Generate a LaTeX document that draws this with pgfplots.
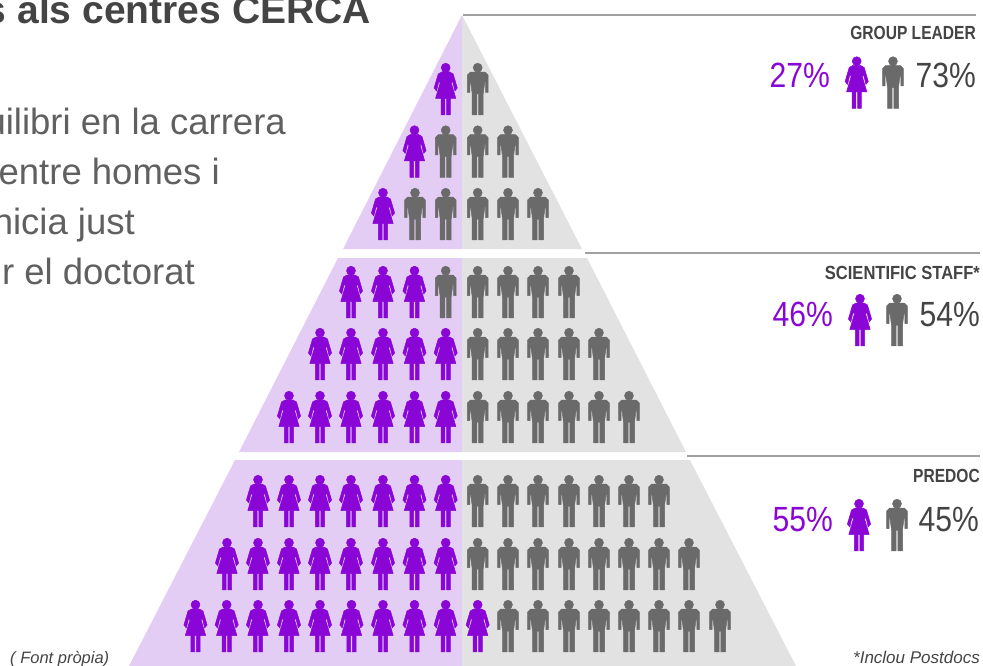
\documentclass[border=0pt]{standalone}
\usepackage{graphicx}
\usepackage{fontspec}
\setmainfont{Liberation Sans}
\usepackage{pgfplots}
\usepackage{pgfplotstable}
\pgfplotsset{compat=1.18}
\definecolor{lpurple}{HTML}{E3CDF5}
\definecolor{lgrey}{HTML}{E2E2E2}
\definecolor{dpurple}{HTML}{8A06D6}
\definecolor{dgrey}{HTML}{6A6A6A}
\definecolor{rulegrey}{HTML}{A0A0A0}
\definecolor{txt}{HTML}{444444}
\newcommand{\Mv}[2]{\pgfpathmoveto{\pgfpoint{#1pt}{#2pt}}}
\newcommand{\Ln}[2]{\pgfpathlineto{\pgfpoint{#1pt}{#2pt}}}
\pgfdeclareplotmark{woman}{%
  \pgfsetroundjoin
  \pgfpathcircle{\pgfpoint{0pt}{21.3pt}}{4.5pt}%
  \Mv{-4}{17}\Ln{4}{17}\Ln{7.5}{15}\Ln{11.6}{1}\Ln{9.2}{-2}\Ln{6.8}{8}\Ln{5.6}{6}\Ln{10.2}{-9.5}%
  \Ln{4.7}{-9.5}\Ln{4.7}{-25.8}\Ln{0.8}{-25.8}\Ln{0.8}{-9.5}\Ln{-0.8}{-9.5}\Ln{-0.8}{-25.8}\Ln{-4.7}{-25.8}\Ln{-4.7}{-9.5}%
  \Ln{-10.2}{-9.5}\Ln{-5.6}{6}\Ln{-6.8}{8}\Ln{-9.2}{-2}\Ln{-11.6}{1}\Ln{-7.5}{15}\pgfpathclose
  \pgfusepathqfillstroke}
\pgfdeclareplotmark{man}{%
  \pgfsetroundjoin
  \pgfpathcircle{\pgfpoint{0pt}{21.3pt}}{4.5pt}%
  \Mv{-7.5}{16.8}\Ln{7.5}{16.8}\Ln{10.3}{14}\Ln{10.3}{-3.5}\Ln{7.8}{-3.5}\Ln{7.8}{8}\Ln{7.2}{8}\Ln{5.5}{-5}%
  \Ln{5.5}{-25.8}\Ln{0.8}{-25.8}\Ln{0.8}{-5}\Ln{-0.8}{-5}\Ln{-0.8}{-25.8}\Ln{-5.5}{-25.8}\Ln{-5.5}{-5}%
  \Ln{-7.2}{8}\Ln{-7.8}{8}\Ln{-7.8}{-3.5}\Ln{-10.3}{-3.5}\Ln{-10.3}{14}\pgfpathclose
  \pgfusepathqfillstroke}
\pgfplotstableread{
x y
445.7 89
414.5 151.5
383 214
351 292
383 292
414.5 292
320 354
351 354
383 354
414.5 354
445.7 354
289 417
320 417
351 417
383 417
414.5 417
445.7 417
258 501
289 501
320 501
351 501
383 501
414.5 501
445.7 501
227 564
258 564
289 564
320 564
351 564
383 564
414.5 564
445.7 564
195.5 626
226.7 626
258 626
289 626
320 626
351.5 626
383 626
414.5 626
445.7 626
477.7 626
856.7 82.5
860 320
859 525
}\women
\pgfplotstableread{
x y
477.7 89
445.7 151.5
477.7 151.5
508 151.5
415 214
445.7 214
477.7 214
508 214
538 214
445.7 292
477.7 292
508 292
538 292
569 292
477.7 354
508 354
538 354
569 354
599 354
477.7 417
508 417
538 417
569 417
599 417
629 417
477.7 501
508 501
538 501
569 501
599 501
629 501
659 501
477.7 564
508 564
538 564
569 564
599 564
629 564
659 564
689 564
508 626
538 626
569 626
599 626
629 626
659 626
689 626
720 626
893 82.5
897 320
897 525
}\men
\newcommand{\lab}[4]{\node[anchor=base east,inner sep=0pt,text=txt] at (axis cs:#1,#2) {\scalebox{#3}[1]{\fontsize{19}{19}\selectfont\bfseries #4}};}
\newcommand{\pct}[4]{\node[anchor=base east,inner sep=0pt,text=#3] at (axis cs:#1,#2) {\scalebox{.86}[1]{\fontsize{35}{35}\selectfont #4}};}
\begin{document}
\begin{tikzpicture}
\path[use as bounding box,clip] (0,0) rectangle (983pt,666pt);
\begin{axis}[
  at={(0,0)},anchor=south west,
  width=983pt,height=666pt,scale only axis,
  xmin=0,xmax=983,ymin=0,ymax=666,y dir=reverse,
  hide axis,clip=false]
% pyramid
\addplot[fill=lpurple,draw=none] coordinates {(462,15)(343,249)(462,249)} -- cycle;
\addplot[fill=lgrey,draw=none] coordinates {(462,15)(582,249)(462,249)} -- cycle;
\addplot[fill=lpurple,draw=none] coordinates {(462,258)(338,258)(239,452)(462,452)} -- cycle;
\addplot[fill=lgrey,draw=none] coordinates {(462,258)(587,258)(686,452)(462,452)} -- cycle;
\addplot[fill=lpurple,draw=none] coordinates {(462,460)(235,460)(129,666)(462,666)} -- cycle;
\addplot[fill=lgrey,draw=none] coordinates {(462,460)(690,460)(796,666)(462,666)} -- cycle;
% rules
\addplot[rulegrey,line width=2pt] coordinates {(463,15)(976,15)};
\addplot[rulegrey,line width=2pt] coordinates {(585,252.5)(980,252.5)};
\addplot[rulegrey,line width=2pt] coordinates {(687,455.5)(980,455.5)};
% people
\addplot[only marks,mark=woman,mark options={fill=dpurple,draw=dpurple,line width=.5pt}] table[x=x,y=y] {\women};
\addplot[only marks,mark=man,mark options={fill=dgrey,draw=dgrey,line width=.5pt}] table[x=x,y=y] {\men};
% text
\node[anchor=base east,inner sep=0pt,text=txt] at (axis cs:371,24) {\fontsize{39}{39}\selectfont\bfseries s als centres CERCA};
\foreach \a/\b/\t in {286/135/uilibri en la carrera,220/185/entre homes i,135/234/nicia just,195/284/r el doctorat}{
  \edef\tmp{\noexpand\node[anchor=base east,inner sep=0pt,text=txt!85] at (axis cs:\a,\b) {\noexpand\fontsize{36.5}{36.5}\noexpand\selectfont \t};}\tmp
}
\lab{976}{40}{.82}{GROUP LEADER}
\lab{980}{279}{.87}{SCIENTIFIC STAFF*}
\lab{980}{482}{.82}{PREDOC}
\pct{830}{88}{dpurple}{27\%}
\pct{976}{88}{txt}{73\%}
\pct{833}{326}{dpurple}{46\%}
\pct{980}{326}{txt}{54\%}
\pct{833}{531}{dpurple}{55\%}
\pct{979}{531}{txt}{45\%}
\node[anchor=base west,inner sep=0pt,text=txt] at (axis cs:10,663) {\fontsize{16.5}{16.5}\selectfont\itshape ( Font pròpia)};
\node[anchor=base east,inner sep=0pt,text=txt] at (axis cs:980,663) {\fontsize{17}{17}\selectfont\itshape *Inclou Postdocs};
\end{axis}
\end{tikzpicture}
\end{document}
